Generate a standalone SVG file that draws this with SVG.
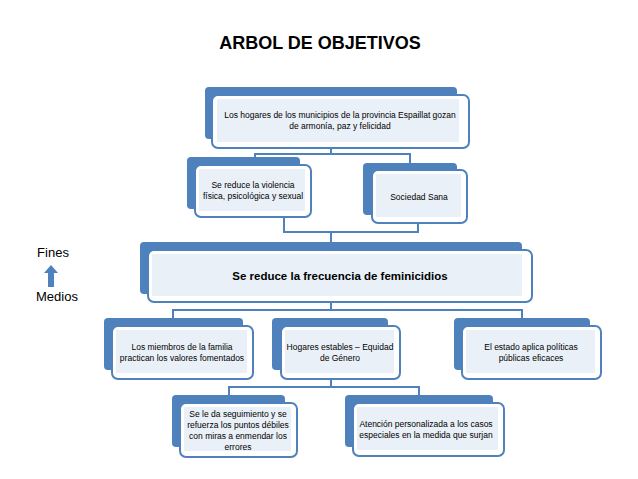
<svg xmlns="http://www.w3.org/2000/svg" width="638" height="479" viewBox="0 0 638 479">
<style>
.b{fill:#4f81bd}
.f{fill:#fff;stroke:#4f81bd;stroke-width:2}
.i{fill:#eaf0f7}
.t{font-family:"Liberation Sans",Arial,sans-serif;font-size:8.5px;fill:#000;text-anchor:middle}
.c{fill:none;stroke:#4f81bd;stroke-width:2}
</style>
<rect width="638" height="479" fill="#fff"/>
<text x="320" y="49" text-anchor="middle" font-family="Liberation Sans,Arial,sans-serif" font-size="18" font-weight="bold">ARBOL DE OBJETIVOS</text>
<g id="connectors">
<polyline class="c" points="331,148 331,154 255,154 255,158"/>
<polyline class="c" points="331,154 410,154 410,164"/>
<polyline class="c" points="284,217 284,232 418,232 418,223"/>
<polyline class="c" points="331,232 331,242"/>
<polyline class="c" points="331,302 331,310 173,310 173,319"/>
<polyline class="c" points="331,310 522,310 522,319"/>
<polyline class="c" points="331,379 331,387 229,387 229,396"/>
<polyline class="c" points="331,387 419,387 419,396"/>
</g>
<g id="legend">
<text x="53" y="257" text-anchor="middle" font-family="Liberation Sans,Arial,sans-serif" font-size="13">Fines</text>
<path d="M51,265 L58,273 L54,273 L54,287 L48,287 L48,273 L44,273 Z" fill="#4f81bd"/>
<text x="57" y="301" text-anchor="middle" font-family="Liberation Sans,Arial,sans-serif" font-size="13">Medios</text>
</g>
<g id="n1"><rect class="b" x="205" y="87" width="252" height="52" rx="4"/><rect class="f" x="212" y="95" width="257" height="53" rx="6"/><rect class="i" x="217" y="99" width="242" height="43"/>
<text class="t" x="340" y="118">Los hogares de los municipios de la provincia Espaillat gozan</text><text class="t" x="340" y="129">de armonía, paz y felicidad</text></g>
<g id="n2"><rect class="b" x="187" y="157" width="113" height="52" rx="4"/><rect class="f" x="195" y="165" width="116" height="52" rx="6"/><rect class="i" x="199" y="169" width="106" height="42"/>
<text class="t" x="253" y="188">Se reduce la violencia</text><text class="t" x="253" y="199">física, psicológica y sexual</text></g>
<g id="n3"><rect class="b" x="363" y="163" width="94" height="52" rx="4"/><rect class="f" x="372" y="170" width="95" height="53" rx="6"/><rect class="i" x="376" y="174" width="85" height="43"/>
<text class="t" x="419" y="200">Sociedad Sana</text></g>
<g id="n4"><rect class="b" x="140" y="242" width="382" height="52" rx="4"/><rect class="f" x="148" y="250" width="384" height="52" rx="6"/><rect class="i" x="152" y="254" width="370" height="42"/>
<text x="340" y="280" text-anchor="middle" font-family="Liberation Sans,Arial,sans-serif" font-size="11.5" font-weight="bold">Se reduce la frecuencia de feminicidios</text></g>
<g id="n5"><rect class="b" x="104" y="318" width="139" height="52" rx="4"/><rect class="f" x="112" y="326" width="141" height="53" rx="6"/><rect class="i" x="116" y="330" width="131" height="43"/>
<text class="t" x="182" y="350">Los miembros de la familia</text><text class="t" x="182" y="361">practican los valores fomentados</text></g>
<g id="n6"><rect class="b" x="272" y="318" width="116" height="52" rx="4"/><rect class="f" x="281" y="326" width="119" height="53" rx="6"/><rect class="i" x="285" y="330" width="109" height="43"/>
<text class="t" x="340" y="350">Hogares estables – Equidad</text><text class="t" x="340" y="361">de Género</text></g>
<g id="n7"><rect class="b" x="454" y="318" width="136" height="52" rx="4"/><rect class="f" x="462" y="326" width="139" height="53" rx="6"/><rect class="i" x="466" y="330" width="129" height="43"/>
<text class="t" x="531" y="350">El estado aplica políticas</text><text class="t" x="531" y="361">públicas eficaces</text></g>
<g id="n8"><rect class="b" x="172" y="395" width="113" height="52" rx="4"/><rect class="f" x="180" y="403" width="117" height="54" rx="6"/><rect class="i" x="184" y="407" width="107" height="44"/>
<text class="t" x="238" y="417">Se le da seguimiento y se</text><text class="t" x="238" y="428">refuerza los puntos débiles</text><text class="t" x="238" y="439">con miras a enmendar los</text><text class="t" x="238" y="450">errores</text></g>
<g id="n9"><rect class="b" x="345" y="395" width="148" height="52" rx="4"/><rect class="f" x="353" y="403" width="151" height="53" rx="6"/><rect class="i" x="357" y="407" width="141" height="43"/>
<text class="t" x="426" y="427">Atención personalizada a los casos</text><text class="t" x="426" y="438">especiales en la medida que surjan</text></g>
</svg>
